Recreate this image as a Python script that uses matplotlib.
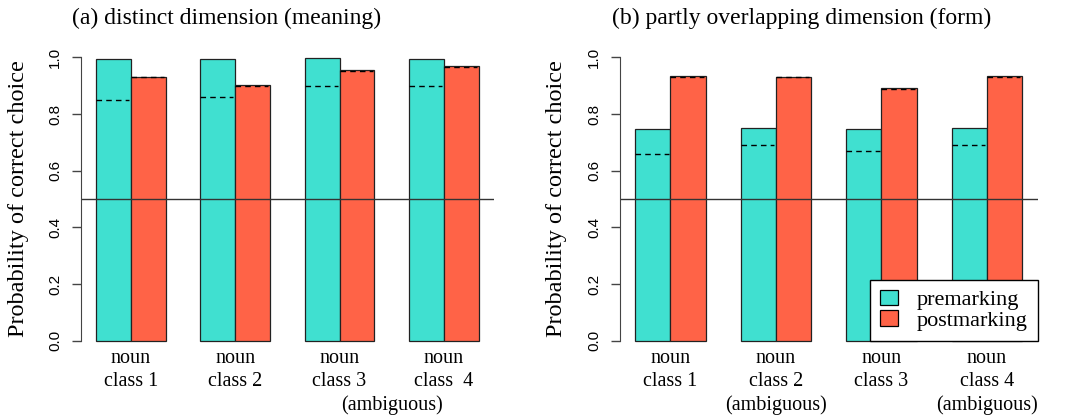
import numpy as np
import matplotlib
matplotlib.use("Agg")
import matplotlib.pyplot as plt

# values
classes_a = ["noun\nclass 1", "noun\nclass 2", "noun\nclass 3", "noun\nclass  4"]
classes_b = ["noun\nclass 1", "noun\nclass 2\n(ambiguous)", "noun\nclass 3", "noun\nclass 4\n(ambiguous)"]

pre_a = [0.995, 0.993, 0.996, 0.995]
post_a = [0.932, 0.903, 0.955, 0.969]
pre_a_ref = [0.851, 0.860, 0.900, 0.900]
post_a_ref = [0.930, 0.900, 0.952, 0.966]

pre_b = [0.748, 0.749, 0.747, 0.749]
post_b = [0.933, 0.932, 0.893, 0.935]
pre_b_ref = [0.660, 0.690, 0.670, 0.690]
post_b_ref = [0.930, 0.930, 0.887, 0.930]

titles = ["(a) distinct dimension (meaning)", "(b) partly overlapping dimension (form)"]

teal = "#40E0D0"
tomato = "#FF6347"
serif = ["Liberation Serif", "DejaVu Serif"]
sans = ["Liberation Sans", "DejaVu Sans"]

fig = plt.figure(figsize=(10.66, 4.18), dpi=100)
ax_a = fig.add_axes([0.0757, 0.158, 0.3877, 0.732])
ax_b = fig.add_axes([0.5814, 0.158, 0.3919, 0.732])

panels = [
    (ax_a, classes_a, pre_a, post_a, pre_a_ref, post_a_ref),
    (ax_b, classes_b, pre_b, post_b, pre_b_ref, post_b_ref),
]

line_y = [-0.063, -0.144, -0.228]

for ax, labels, pre, post, pre_ref, post_ref in panels:
    n = len(pre)
    left_pre = np.arange(n) * 3 + 1  # R barplot beside=TRUE layout
    left_post = left_pre + 1
    ax.bar(left_pre, pre, width=1, align="edge", color=teal, edgecolor="#222222", linewidth=0.9)
    ax.bar(left_post, post, width=1, align="edge", color=tomato, edgecolor="#222222", linewidth=0.9)
    for i in range(n):
        ax.plot([left_pre[i], left_pre[i] + 0.95], [pre_ref[i]] * 2, color="black",
                lw=1.0, dashes=(4, 3))
        ax.plot([left_post[i], left_post[i] + 0.95], [post_ref[i]] * 2, color="black",
                lw=1.0, dashes=(4, 3))
    ax.axhline(0.5, color="#333333", lw=1.0)
    ax.set_xlim(0.56, 12.44)
    ax.set_ylim(-0.04, 1.04)

    for s in ["top", "right", "bottom"]:
        ax.spines[s].set_visible(False)
    ax.spines["left"].set_bounds(0, 1)
    ax.spines["left"].set_color("#444444")
    ax.set_yticks([0, 0.2, 0.4, 0.6, 0.8, 1.0])
    ax.set_yticklabels(["0.0", "0.2", "0.4", "0.6", "0.8", "1.0"], rotation=90,
                       va="center", family=sans, fontsize=11)
    ax.tick_params(axis="y", length=6.5, width=1, color="#444444", pad=7)
    ax.set_xticks([])
    ax.set_ylabel("Probability of correct choice", family=serif, fontsize=17.5,
                  va="center")
    ax.yaxis.set_label_coords(-0.151, 0.5)

    for i, lab in enumerate(labels):
        for j, part in enumerate(lab.split("\n")):
            ax.text(left_pre[i] + 1, line_y[j], part, ha="center", va="center",
                    family=serif, fontsize=14.5)

ax_a.text(9.5, line_y[2], "(ambiguous)", ha="center", va="center",
          family=serif, fontsize=14.5)

fig.text(0.068, 0.955, titles[0], family=serif, fontsize=17, va="center", ha="left")
fig.text(0.574, 0.955, titles[1], family=serif, fontsize=17, va="center", ha="left")

handles = [plt.Rectangle((0, 0), 1, 1, facecolor=teal, edgecolor="black", lw=0.9),
           plt.Rectangle((0, 0), 1, 1, facecolor=tomato, edgecolor="black", lw=0.9)]
leg = ax_b.legend(handles, ["premarking", "postmarking"], loc="lower right",
                  bbox_to_anchor=(12.44, 0.0), bbox_transform=ax_b.transData,
                  borderaxespad=0, fancybox=False, framealpha=1, edgecolor="black",
                  prop={"family": serif, "size": 16}, handlelength=0.8,
                  handleheight=0.7, labelspacing=0.0, handletextpad=0.85,
                  borderpad=0.45)
leg.get_frame().set_linewidth(1.0)

fig.savefig("out.png", dpi=100)
